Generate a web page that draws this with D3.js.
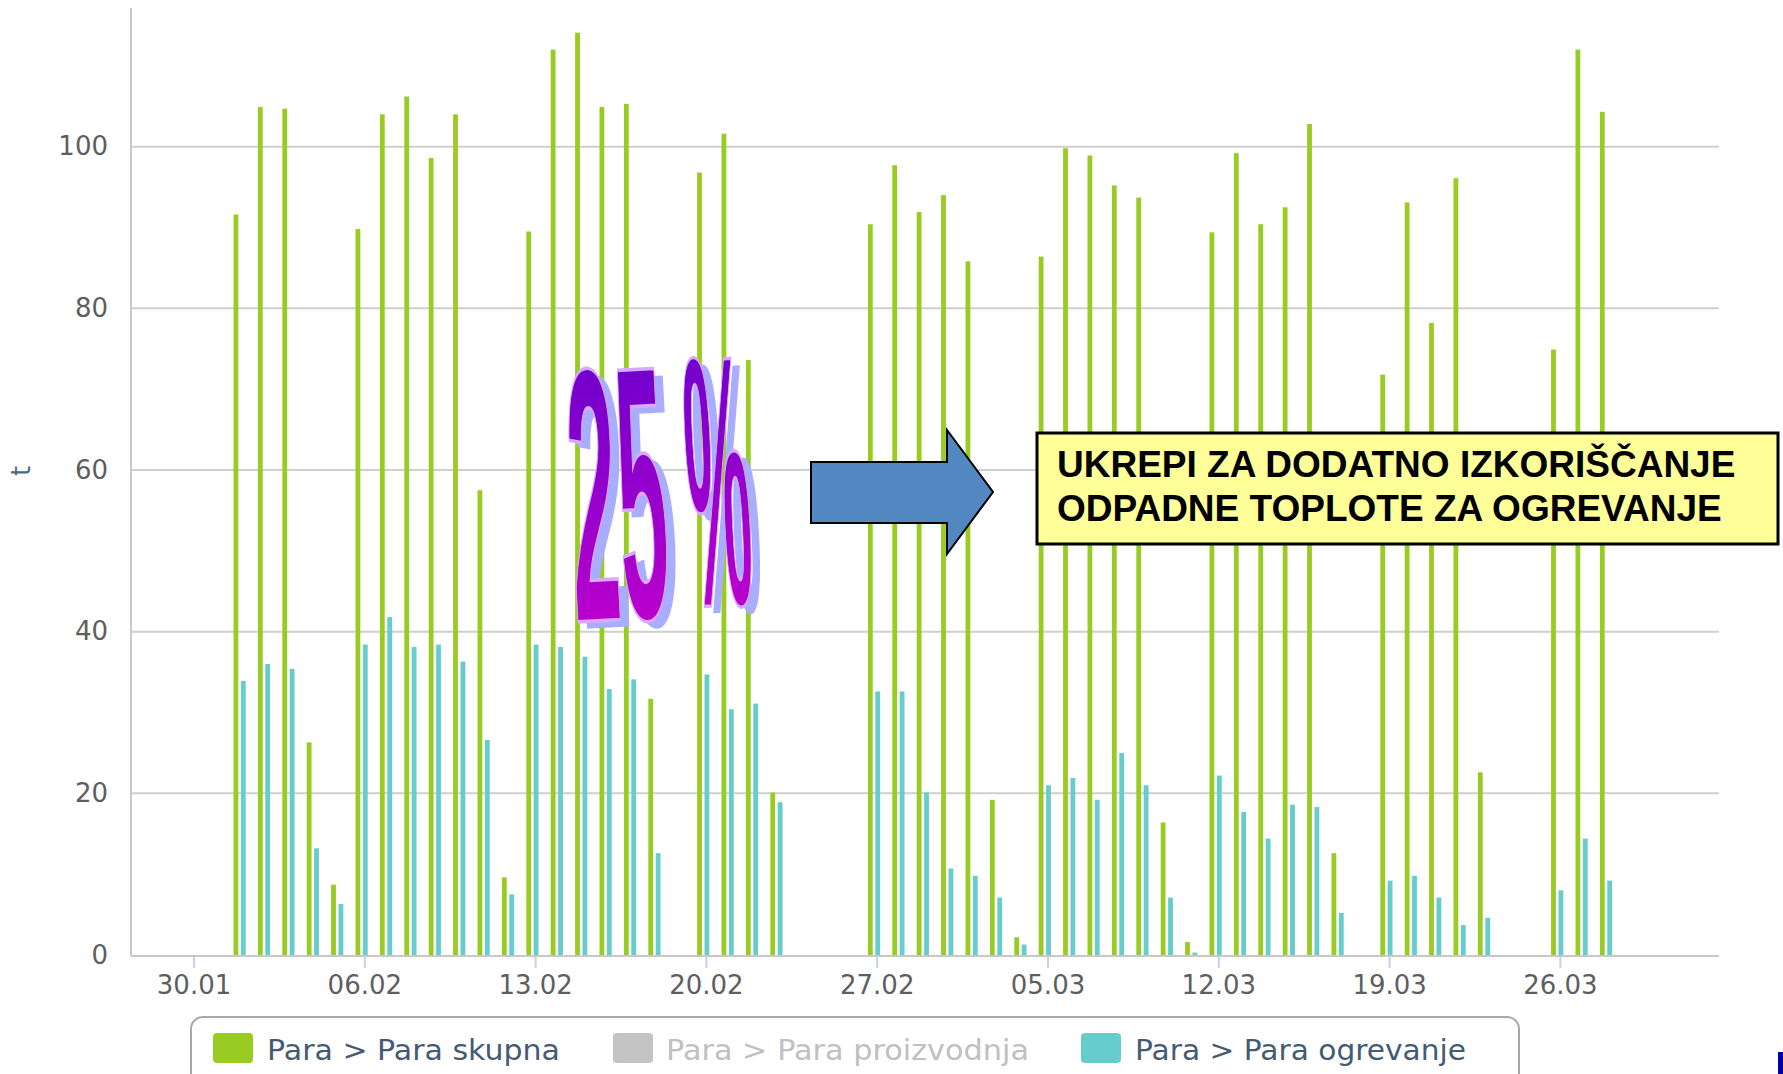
<!DOCTYPE html>
<html>
<head>
<meta charset="utf-8">
<script src="https://cdn.jsdelivr.net/npm/d3@7"></script>
<style>
  html, body { margin: 0; padding: 0; background: #ffffff; }
  svg { display: block; }
</style>
</head>
<body>
<svg id="chart" width="1783" height="1074"></svg>
<script>
// ---------------- DATA ----------------
const dates = [
  "2012-02-01","2012-02-02","2012-02-03","2012-02-04","2012-02-05","2012-02-06","2012-02-07",
  "2012-02-08","2012-02-09","2012-02-10","2012-02-11","2012-02-12","2012-02-13","2012-02-14",
  "2012-02-15","2012-02-16","2012-02-17","2012-02-18","2012-02-20","2012-02-21","2012-02-22",
  "2012-02-23","2012-02-27","2012-02-28","2012-02-29","2012-03-01","2012-03-02","2012-03-03",
  "2012-03-04","2012-03-05","2012-03-06","2012-03-07","2012-03-08","2012-03-09","2012-03-10",
  "2012-03-11","2012-03-12","2012-03-13","2012-03-14","2012-03-15","2012-03-16","2012-03-17",
  "2012-03-19","2012-03-20","2012-03-21","2012-03-22","2012-03-23","2012-03-26","2012-03-27",
  "2012-03-28"
];
const paraSkupna = [
  91.6,104.9,104.7,26.3,8.7,89.8,104.0,
  106.2,98.6,104.0,57.5,9.6,89.5,112.0,
  114.1,104.9,105.3,31.7,96.8,101.6,73.6,
  20.1,90.4,97.7,91.9,94.0,85.8,19.2,
  2.2,86.4,99.8,98.9,95.2,93.7,16.4,
  1.6,89.4,99.2,90.4,92.5,102.8,12.6,
  71.8,93.1,78.2,96.1,22.6,74.9,112.0,
  104.3
];
const paraOgrevanje = [
  33.9,36.0,35.4,13.2,6.3,38.4,41.8,
  38.1,38.4,36.3,26.6,7.5,38.4,38.1,
  36.9,32.9,34.1,12.6,34.7,30.4,31.1,
  18.9,32.6,32.6,20.1,10.7,9.8,7.1,
  1.3,21.0,21.9,19.2,25.0,21.0,7.1,
  0.3,22.2,17.7,14.4,18.6,18.3,5.2,
  9.2,9.8,7.1,3.7,4.6,8.0,14.4,
  9.2
];
const yTicks = [0, 20, 40, 60, 80, 100];
const xDomain = ["2012-01-27T10:30", "2012-04-01T12:30"];
const yDomain = [0, 117.15];
const legendNames = ["Para > Para skupna", "Para > Para proizvodnja", "Para > Para ogrevanje"];
const yAxisTitle = "t";
const bigLabel = ["25", "%"];
const boxLines = ["UKREPI ZA DODATNO IZKORIŠČANJE", "ODPADNE TOPLOTE ZA OGREVANJE"];

// ---------------- SETUP ----------------
const svg = d3.select("#chart");
const plot = { left: 131, right: 1719, top: 8, bottom: 955 };
const colGreen = "#99cc22", colCyan = "#66cccc", colGray = "#c4c4c4";

const parseDay = d3.utcParse("%Y-%m-%d");
const parseTime = d3.utcParse("%Y-%m-%dT%H:%M");
const rows = dates.map((d, i) => ({ date: parseDay(d), skupna: paraSkupna[i], ogrevanje: paraOgrevanje[i] }));

const x = d3.scaleUtc().domain(xDomain.map(parseTime)).range([plot.left, plot.right]);
const y = d3.scaleLinear().domain(yDomain).range([plot.bottom, plot.top]);

// defs
const defs = svg.append("defs");
const grad = defs.append("linearGradient").attr("id", "wa").attr("x1", 0).attr("y1", 0).attr("x2", 0).attr("y2", 1);
grad.append("stop").attr("offset", "0%").attr("stop-color", "#5c00cc");
grad.append("stop").attr("offset", "100%").attr("stop-color", "#d000cc");

// gridlines
svg.append("g").selectAll("line").data(yTicks.filter(t => t > 0)).join("line")
  .attr("x1", plot.left).attr("x2", plot.right)
  .attr("y1", d => y(d)).attr("y2", d => y(d))
  .attr("stroke", "#cfcfcf").attr("stroke-width", 2);

// y axis
const yAxis = d3.axisLeft(y).tickValues(yTicks).tickSize(0).tickPadding(23);
const gy = svg.append("g").attr("transform", `translate(${plot.left},0)`).call(yAxis);
gy.select(".domain").remove();
gy.selectAll("text").attr("font-family", "DejaVu Sans").attr("font-size", 26).attr("fill", "#5e5e5e");
svg.append("line").attr("x1", plot.left).attr("x2", plot.left).attr("y1", plot.top).attr("y2", plot.bottom + 1)
  .attr("stroke", "#c8c8c8").attr("stroke-width", 2);

// y axis title
svg.append("text").attr("transform", `translate(30,471) rotate(-90)`)
  .attr("text-anchor", "middle").attr("font-family", "DejaVu Sans").attr("font-size", 26)
  .attr("fill", "#4c6a8a").text(yAxisTitle);

// x axis
const xAxis = d3.axisBottom(x).ticks(d3.utcMonday.every(1)).tickFormat(d3.utcFormat("%d.%m"))
  .tickSize(12).tickPadding(8);
const gx = svg.append("g").attr("transform", `translate(0,${plot.bottom + 1})`).call(xAxis);
gx.select(".domain").remove();
gx.selectAll(".tick line").attr("stroke", "#c3d3e6").attr("stroke-width", 2);
gx.selectAll("text").attr("font-family", "DejaVu Sans").attr("font-size", 26).attr("fill", "#5e5e5e");
svg.append("line").attr("x1", plot.left).attr("x2", plot.right).attr("y1", plot.bottom + 1).attr("y2", plot.bottom + 1)
  .attr("stroke", "#c8c8c8").attr("stroke-width", 2);

// bars
const bw = 4.8;
const gb = svg.append("g");
gb.selectAll("rect.g").data(rows).join("rect").attr("class", "g")
  .attr("x", d => x(d.date) - 8.8).attr("width", bw)
  .attr("y", d => y(d.skupna)).attr("height", d => y(0) - y(d.skupna))
  .attr("fill", colGreen);
gb.selectAll("rect.c").data(rows).join("rect").attr("class", "c")
  .attr("x", d => x(d.date) - 1.4).attr("width", bw)
  .attr("y", d => y(d.ogrevanje)).attr("height", d => y(0) - y(d.ogrevanje))
  .attr("fill", colCyan);

// legend
const lg = svg.append("g");
lg.append("rect").attr("x", 191).attr("y", 1017).attr("width", 1328).attr("height", 90).attr("rx", 12)
  .attr("fill", "#fff").attr("stroke", "#a8a8a8").attr("stroke-width", 2);
const legItems = [
  { sx: 213, tx: 267, tw: 293, col: colGreen, txt: "#445b73" },
  { sx: 613, tx: 666, tw: 363, col: colGray, txt: "#c0c0c0" },
  { sx: 1081, tx: 1135, tw: 331, col: colCyan, txt: "#445b73" }
];
legItems.forEach((it, i) => {
  lg.append("rect").attr("x", it.sx).attr("y", 1033).attr("width", 40).attr("height", 30).attr("rx", 4).attr("fill", it.col);
  lg.append("text").attr("x", it.tx).attr("y", 1060).attr("font-family", "DejaVu Sans").attr("font-size", 28)
    .attr("fill", it.txt).attr("textLength", it.tw).attr("lengthAdjust", "spacingAndGlyphs").text(legendNames[i]);
});

// annotation: 25 %
const wa = svg.append("g");
function wordArt(txt, tx, ty, sx, sy, rot) {
  wa.append("text").attr("transform", `translate(${tx + 9},${ty + 7}) rotate(${rot}) scale(${sx},${sy})`)
    .attr("font-family", "Liberation Sans").attr("font-weight", "bold").attr("font-size", 100)
    .attr("fill", "#a9adff").text(txt);
  wa.append("text").attr("transform", `translate(${tx},${ty}) rotate(${rot}) scale(${sx},${sy})`)
    .attr("font-family", "Liberation Sans").attr("font-weight", "bold").attr("font-size", 100)
    .attr("fill", "url(#wa)").attr("stroke", "#d9a8ff").attr("stroke-width", 1).text(txt);
}
wordArt(bigLabel[0], 575, 622, 0.88, 3.62, -3);
wordArt(bigLabel[1], 692, 607, 0.72, 3.58, -3);

// arrow
svg.append("polygon")
  .attr("points", [[811,462],[947,462],[947,430],[993,492],[947,554],[947,523],[811,523]].map(p => p.join(",")).join(" "))
  .attr("fill", "#5387c2").attr("stroke", "#000").attr("stroke-width", 2);

// yellow box
svg.append("rect").attr("x", 1037).attr("y", 433).attr("width", 741).attr("height", 111)
  .attr("fill", "#ffff99").attr("stroke", "#000").attr("stroke-width", 3);
boxLines.forEach((t, i) => {
  svg.append("text").attr("x", 1057).attr("y", 477 + i * 44)
    .attr("font-family", "Liberation Sans").attr("font-weight", "bold").attr("font-size", 37)
    .attr("fill", "#000").text(t);
});

// corner mark
svg.append("rect").attr("x", 1778).attr("y", 1052).attr("width", 5).attr("height", 22).attr("fill", "#0000a0");
</script>
</body>
</html>
